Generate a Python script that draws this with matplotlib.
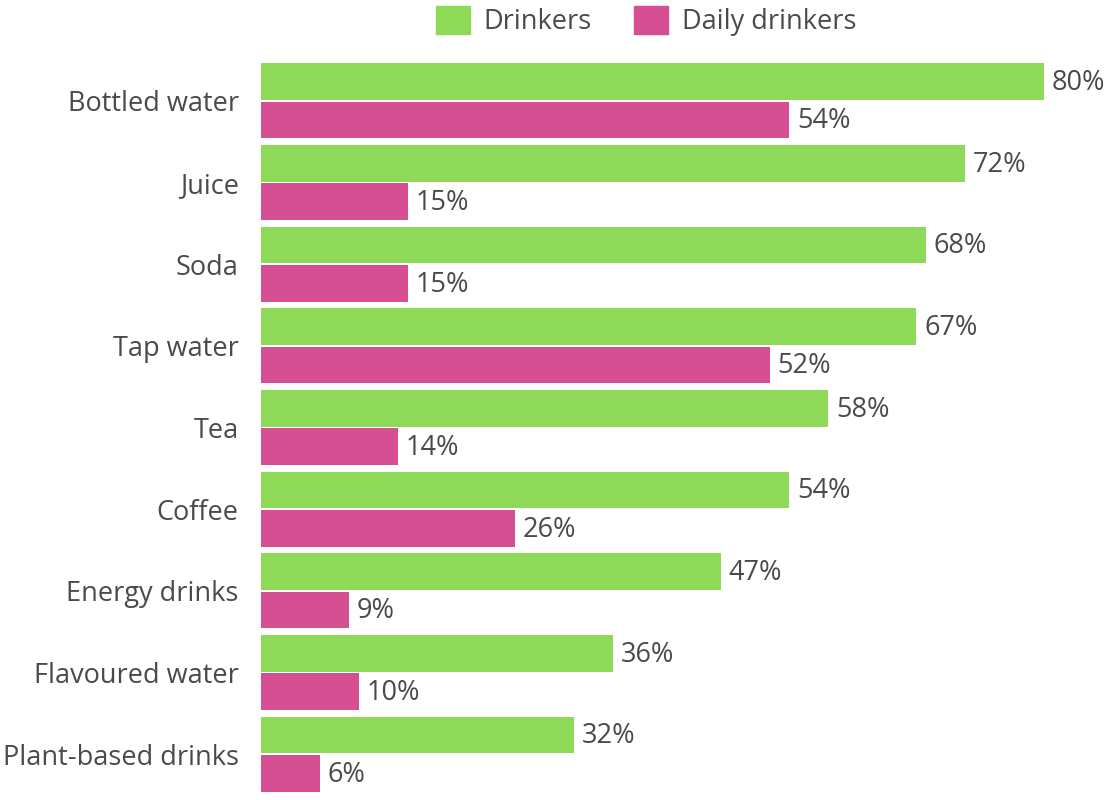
import matplotlib
matplotlib.use('Agg')
import matplotlib.pyplot as plt
from matplotlib.patches import Patch
import numpy as np

categories = ['Bottled water', 'Juice', 'Soda', 'Tap water', 'Tea', 'Coffee',
              'Energy drinks', 'Flavoured water', 'Plant-based drinks']
drinkers = [80, 72, 68, 67, 58, 54, 47, 36, 32]
daily = [54, 15, 15, 52, 14, 26, 9, 10, 6]
series_names = ['Drinkers', 'Daily drinkers']

green = '#8ed957'
pink = '#d54f92'
txt = '#4a4a4a'

plt.rcParams['font.family'] = ['Open Sans', 'DejaVu Sans']
fs = 19.5

fig = plt.figure(figsize=(11.12, 8), dpi=100)
ax = fig.add_axes([261 / 1112, 5 / 800, 851 / 1112, 735 / 800])

y = np.arange(len(categories))
h = 0.45
off = 0.236
b1 = ax.barh(y - off, drinkers, height=h, color=green)
b2 = ax.barh(y + off, daily, height=h, color=pink)

for bars, vals in [(b1, drinkers), (b2, daily)]:
    for bar, v in zip(bars, vals):
        ax.annotate('%d%%' % v, (bar.get_width(), bar.get_y() + bar.get_height() / 2),
                    xytext=(5.5, -1), textcoords='offset points',
                    ha='left', va='center', fontsize=fs, color=txt)

ax.set_xlim(0, 87)
ax.set_ylim(len(categories) - 0.5, -0.5)
ax.set_yticks(y)
ax.set_yticklabels(categories, fontsize=fs, color=txt)
ax.tick_params(axis='y', length=0, pad=16)
ax.set_xticks([])
for s in ax.spines.values():
    s.set_visible(False)

handles = [Patch(color=green), Patch(color=pink)]
fig.legend(handles, series_names, loc='center', bbox_to_anchor=(646 / 1112, 1 - 21 / 800),
           ncol=2, frameon=False, fontsize=fs, labelcolor=txt,
           handlelength=1.25, handleheight=1.22, handletextpad=0.52, columnspacing=1.55)

fig.savefig('out.png', dpi=100)
